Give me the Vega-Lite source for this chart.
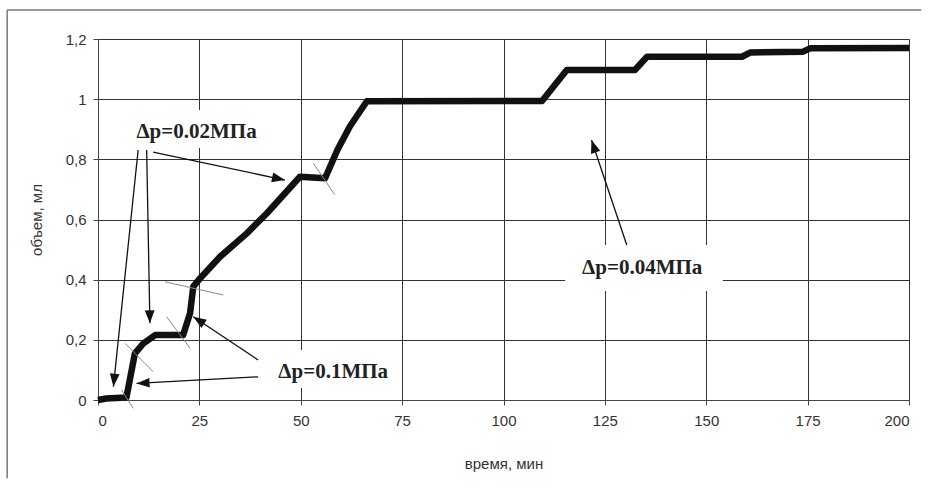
{
  "$schema": "https://vega.github.io/schema/vega-lite/v6.json",
  "width": 811,
  "height": 361,
  "autosize": "none",
  "padding": {"left": 98, "top": 39, "right": 20, "bottom": 89},
  "background": "white",
  "config": {
    "view": {"stroke": "#666", "strokeWidth": 1},
    "axis": {
      "labelFont": "Liberation Sans",
      "titleFont": "Liberation Sans",
      "labelFontSize": 15,
      "titleFontSize": 15,
      "titleFontWeight": "normal",
      "labelColor": "#333",
      "titleColor": "#333",
      "domainColor": "#444",
      "tickColor": "#444",
      "gridColor": "#333",
      "gridOpacity": 1,
      "gridWidth": 1,
      "tickSize": 5
    }
  },
  "datasets": {
    "curve": [
      {"x": 0, "y": 0}, {"x": 2, "y": 0.005}, {"x": 7, "y": 0.008}, {"x": 9.1, "y": 0.155},
      {"x": 11.2, "y": 0.188}, {"x": 14.1, "y": 0.216}, {"x": 21, "y": 0.216}, {"x": 22.7, "y": 0.288},
      {"x": 23.5, "y": 0.377}, {"x": 25.2, "y": 0.405}, {"x": 30.1, "y": 0.476}, {"x": 36.7, "y": 0.554},
      {"x": 41.6, "y": 0.62}, {"x": 49.8, "y": 0.742}, {"x": 56, "y": 0.737}, {"x": 59, "y": 0.83},
      {"x": 62.1, "y": 0.909}, {"x": 66.3, "y": 0.993}, {"x": 109.5, "y": 0.994}, {"x": 115.6, "y": 1.097},
      {"x": 132.4, "y": 1.097}, {"x": 135.4, "y": 1.141}, {"x": 158.8, "y": 1.141}, {"x": 160.8, "y": 1.155},
      {"x": 173.9, "y": 1.158}, {"x": 175.6, "y": 1.169}, {"x": 200, "y": 1.17}
    ],
    "boxes": [
      {"x": 7.2, "x2": 41.4, "y": 0.964, "y2": 0.838},
      {"x": 41.9, "x2": 74.0, "y": 0.166, "y2": 0.04},
      {"x": 115.2, "x2": 154.1, "y": 0.515, "y2": 0.362}
    ],
    "frame": [
      {"x": -22.4, "y": 1.2966, "x2": -22.4, "y2": -0.26},
      {"x": -22.4, "y": 1.2966, "x2": 203, "y2": 1.2966}
    ],
    "segments": [
      {"x": 5.8, "y": 0.033, "x2": 8.7, "y2": -0.028},
      {"x": 6.7, "y": 0.188, "x2": 13.6, "y2": 0.094},
      {"x": 16.9, "y": 0.277, "x2": 22.7, "y2": 0.172},
      {"x": 16.5, "y": 0.393, "x2": 30.9, "y2": 0.349},
      {"x": 53.1, "y": 0.787, "x2": 58.4, "y2": 0.682}
    ],
    "arrows": [
      {"x": 9.9, "y": 0.831, "x2": 3.8, "y2": 0.044},
      {"x": 12.0, "y": 0.831, "x2": 12.8, "y2": 0.255},
      {"x": 13.6, "y": 0.824, "x2": 46.1, "y2": 0.731},
      {"x": 39.5, "y": 0.133, "x2": 23.5, "y2": 0.277},
      {"x": 39.5, "y": 0.077, "x2": 9.5, "y2": 0.055},
      {"x": 130.4, "y": 0.515, "x2": 121.7, "y2": 0.864}
    ],
    "labels": [
      {"x": 24.3, "y": 0.892, "label": "Δp=0.02МПа"},
      {"x": 58.0, "y": 0.093, "label": "Δp=0.1МПа"},
      {"x": 134.2, "y": 0.439, "label": "Δp=0.04МПа"}
    ]
  },
  "layer": [
    {
      "data": {"name": "boxes"},
      "mark": {"type": "rect", "fill": "white", "stroke": null},
      "encoding": {
        "x": {
          "field": "x", "type": "quantitative",
          "scale": {"domain": [0, 200], "nice": false, "zero": false},
          "axis": {
            "title": "время, мин", "values": [0, 25, 50, 75, 100, 125, 150, 175, 200],
            "grid": true, "labelPadding": 8,
            "titleX": 405.5, "titleY": 63, "titleBaseline": "middle", "titleAnchor": "middle"
          }
        },
        "x2": {"field": "x2"},
        "y": {
          "field": "y", "type": "quantitative",
          "scale": {"domain": [0, 1.2], "nice": false, "zero": false},
          "axis": {
            "title": "объем, мл", "values": [0, 0.2, 0.4, 0.6, 0.8, 1, 1.2],
            "grid": true, "labelPadding": 7,
            "labelExpr": "replace(format(datum.value, '.1~f'), '.', ',')",
            "titleX": -62, "titleY": 180.5, "titleAngle": -90, "titleBaseline": "middle", "titleAnchor": "middle"
          }
        },
        "y2": {"field": "y2"}
      }
    },
    {
      "data": {"name": "frame"},
      "mark": {"type": "rule", "color": "#777", "strokeWidth": 1.5, "clip": false},
      "encoding": {
        "x": {"field": "x", "type": "quantitative"},
        "x2": {"field": "x2"},
        "y": {"field": "y", "type": "quantitative"},
        "y2": {"field": "y2"}
      }
    },
    {
      "data": {"name": "curve"},
      "mark": {"type": "line", "color": "#111", "strokeWidth": 6.5, "strokeJoin": "round", "strokeCap": "butt"},
      "encoding": {
        "x": {"field": "x", "type": "quantitative"},
        "y": {"field": "y", "type": "quantitative"}
      }
    },
    {
      "data": {"name": "segments"},
      "mark": {"type": "rule", "color": "#888", "strokeWidth": 1, "clip": false},
      "encoding": {
        "x": {"field": "x", "type": "quantitative"},
        "y": {"field": "y", "type": "quantitative"},
        "x2": {"field": "x2"},
        "y2": {"field": "y2"}
      }
    },
    {
      "data": {"name": "arrows"},
      "mark": {"type": "rule", "color": "#111", "strokeWidth": 1.3},
      "encoding": {
        "x": {"field": "x", "type": "quantitative"},
        "y": {"field": "y", "type": "quantitative"},
        "x2": {"field": "x2"},
        "y2": {"field": "y2"}
      }
    },
    {
      "data": {"name": "arrows"},
      "transform": [
        {"calculate": "atan2((datum.x2 - datum.x) * 4.055, (datum.y2 - datum.y) * 300.8) * 180 / PI", "as": "ang"}
      ],
      "mark": {"type": "point", "shape": "M0,0L-0.75,2L0.75,2Z", "filled": true, "color": "#111", "size": 169, "opacity": 1},
      "encoding": {
        "x": {"field": "x2", "type": "quantitative"},
        "y": {"field": "y2", "type": "quantitative"},
        "angle": {"field": "ang", "type": "quantitative", "scale": null}
      }
    },
    {
      "data": {"name": "labels"},
      "mark": {"type": "text", "font": "Liberation Serif", "fontWeight": "bold", "fontSize": 21, "color": "#222", "align": "center", "baseline": "middle"},
      "encoding": {
        "x": {"field": "x", "type": "quantitative"},
        "y": {"field": "y", "type": "quantitative"},
        "text": {"field": "label"}
      }
    }
  ]
}
